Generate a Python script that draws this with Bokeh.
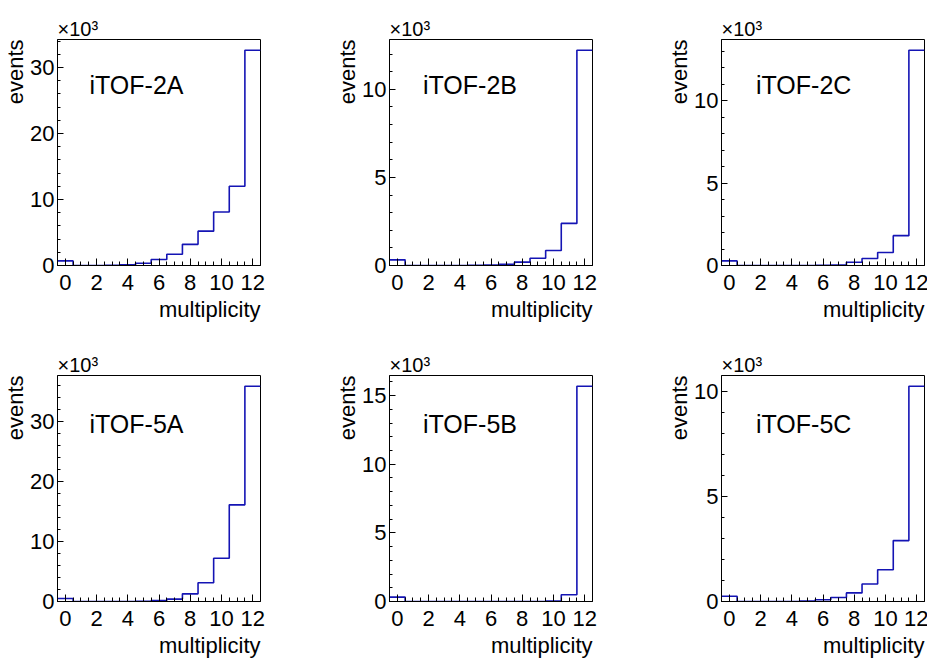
import numpy as np
from bokeh.plotting import figure
from bokeh.models import Range1d, SingleIntervalTicker, Label, Title
from bokeh.layouts import row, column
from bokeh.embed import file_html
from bokeh.resources import INLINE

# ---------------- data (events in units of 10^3) ----------------
names = ["iTOF-2A", "iTOF-2B", "iTOF-2C", "iTOF-5A", "iTOF-5B", "iTOF-5C"]
multiplicity = list(range(13))
itof_2a = [0.70, 0.0, 0.0, 0.03, 0.10, 0.35, 0.90, 1.70, 3.20, 5.20, 8.10, 12.0, 32.6]
itof_2b = [0.32, 0.0, 0.0, 0.0, 0.0, 0.01, 0.03, 0.07, 0.19, 0.41, 0.85, 2.39, 12.22]
itof_2c = [0.28, 0.0, 0.0, 0.0, 0.0, 0.0, 0.01, 0.03, 0.20, 0.42, 0.79, 1.81, 13.05]
itof_5a = [0.50, 0.0, 0.0, 0.0, 0.0, 0.05, 0.17, 0.40, 1.28, 3.12, 7.23, 16.14, 35.95]
itof_5b = [0.32, 0.0, 0.0, 0.0, 0.0, 0.0, 0.0, 0.0, 0.0, 0.0, 0.03, 0.49, 15.68]
itof_5c = [0.25, 0.0, 0.0, 0.0, 0.0, 0.02, 0.08, 0.19, 0.41, 0.83, 1.51, 2.90, 10.25]
series = [itof_2a, itof_2b, itof_2c, itof_5a, itof_5b, itof_5c]
y_tick_interval = [10, 5, 5, 10, 5, 5]
x_tick_interval = 2
x_title = "multiplicity"
y_title = "events"
exponent_label = "\u00d710\u00b3"

# ---------------- layout ----------------
FONT = "Liberation Sans"
LINE_COLOR = "#1414b4"
COL_BL = [57, 57, 56]
COL_FW = [203, 203, 203]
COL_BR = [72, 72, 4]
ROW_BT = [39, 37]
ROW_FH = [226, 226]
ROW_BB = [73, 57]
LABEL_DX = [32, 33.5, 34.5]
LABEL_DY = [45, 48]

x_lo = multiplicity[0] - 0.5
x_hi = multiplicity[-1] + 0.5


def make_panel(idx):
    r, c = divmod(idx, 3)
    vals = series[idx]
    fw = COL_FW[c]
    fh = ROW_FH[r]
    ymax = 1.05 * max(vals)

    def px_x(dx):
        return x_lo + dx * (x_hi - x_lo) / fw

    def px_y(dy_from_top):
        return ymax * (1 - dy_from_top / fh)

    p = figure(frame_width=fw, frame_height=fh,
               min_border_left=COL_BL[c], min_border_right=COL_BR[c],
               min_border_top=ROW_BT[r], min_border_bottom=ROW_BB[r],
               x_range=Range1d(x_lo, x_hi), y_range=Range1d(0, ymax),
               output_backend="svg", toolbar_location=None)
    p.title.visible = False
    p.grid.visible = False
    p.outline_line_color = "black"
    p.outline_line_alpha = 1.0
    p.outline_line_width = 1
    p.background_fill_color = "white"
    p.border_fill_color = "white"

    p.xaxis.ticker = SingleIntervalTicker(interval=x_tick_interval, num_minor_ticks=4)
    p.yaxis.ticker = SingleIntervalTicker(interval=y_tick_interval[idx], num_minor_ticks=5)
    for ax in (p.xaxis[0], p.yaxis[0]):
        ax.axis_line_color = "black"
        ax.major_tick_line_color = "black"
        ax.minor_tick_line_color = "black"
        ax.major_tick_out = 0
        ax.minor_tick_out = 0
        ax.major_label_text_font = FONT
        ax.major_label_text_font_size = "22px"
        ax.major_label_text_color = "black"
    p.xaxis.major_tick_in = 7
    p.xaxis.minor_tick_in = 4
    p.yaxis.major_tick_in = 6
    p.yaxis.minor_tick_in = 3
    p.xaxis.major_label_standoff = 9
    p.yaxis.major_label_standoff = 3

    edges = np.array(multiplicity + [multiplicity[-1] + 1], dtype=float) - 0.5
    yy = np.append(np.array(vals), vals[-1])
    p.step(edges, yy, mode="after", line_color=LINE_COLOR, line_width=1.6)

    p.add_layout(Label(x=px_x(LABEL_DX[c]), y=px_y(LABEL_DY[r]), text=names[idx],
                       text_font=FONT, text_font_size="25px", text_color="black",
                       text_align="left", text_baseline="alphabetic"))

    p.add_layout(Title(text=exponent_label, align="left", offset=0, standoff=0,
                       text_font=FONT, text_font_size="20px", text_font_style="normal",
                       text_color="black"), "above")
    p.add_layout(Title(text=y_title, align="right", offset=0, standoff=0,
                       text_font=FONT, text_font_size="22px", text_font_style="normal",
                       text_color="black"), "left")
    p.add_layout(Title(text=x_title, align="right", offset=0, standoff=5,
                       text_font=FONT, text_font_size="22px", text_font_style="normal",
                       text_color="black"), "below")
    return p


panels = [make_panel(i) for i in range(6)]
layout = column(row(*panels[:3]), row(*panels[3:]))

open("out.html", "w").write(file_html(layout, INLINE))
